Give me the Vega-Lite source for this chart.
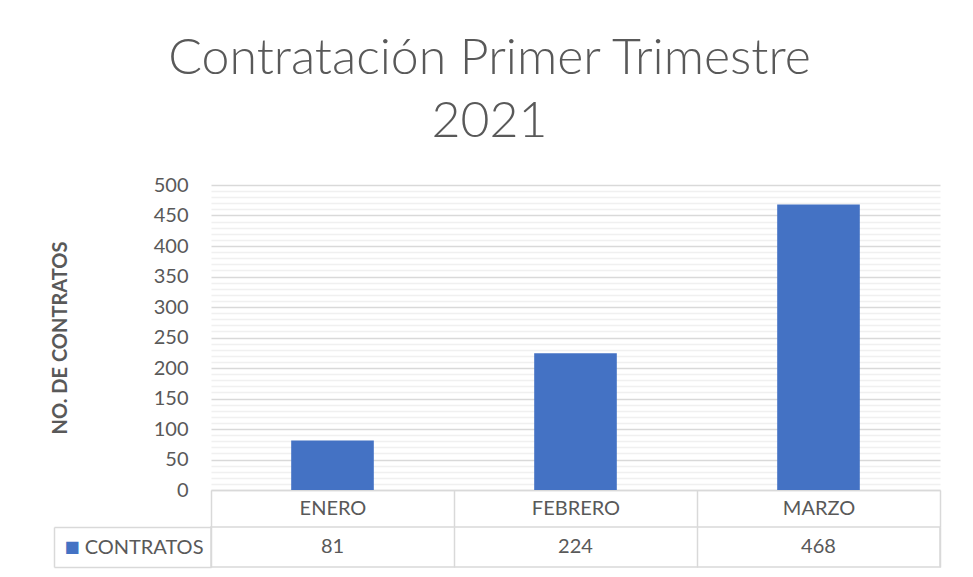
{
  "$schema": "https://vega.github.io/schema/vega-lite/v6.json",
  "background": "white",
  "padding": {"left": 50, "top": 34, "right": 33, "bottom": 10},
  "config": {"font": "Lato", "view": {"stroke": null}},
  "data": {"values": [
    {"mes": "ENERO", "contratos": 81, "serie": "CONTRATOS"},
    {"mes": "FEBRERO", "contratos": 224, "serie": "CONTRATOS"},
    {"mes": "MARZO", "contratos": 468, "serie": "CONTRATOS"}
  ]},
  "title": {
    "text": ["Contratación Primer Trimestre", "2021"],
    "font": "Lato", "fontWeight": 300, "fontSize": 50, "color": "#595959",
    "lineHeight": 63, "anchor": "middle", "dx": -6, "offset": 28
  },
  "bounds": "flush",
  "spacing": 37,
  "vconcat": [
    {
      "width": 729, "height": 305,
      "layer": [
        {
          "mark": {"type": "bar", "color": "#4472C4", "width": {"band": 0.34}},
          "encoding": {
            "x": {"field": "mes", "type": "nominal", "sort": null,
              "scale": {"paddingInner": 0, "paddingOuter": 0},
              "axis": {"title": null, "orient": "bottom", "labelAngle": 0,
                "domainColor": "#d9d9d9", "domainWidth": 1.5,
                "tickBand": "extent", "tickSize": 37, "tickColor": "#d9d9d9", "tickWidth": 1.5,
                "labelPadding": -18.5, "labelBaseline": "middle",
                "labelFontSize": 20, "labelColor": "#595959"}},
            "y": {"field": "contratos", "type": "quantitative",
              "scale": {"domain": [0, 500], "nice": false},
              "axis": {"orient": "left", "title": "NO. DE CONTRATOS",
                "titleFontSize": 20, "titleFontWeight": "bold", "titleColor": "#595959",
                "titlePadding": 83,
                "values": [0, 50, 100, 150, 200, 250, 300, 350, 400, 450, 500],
                "ticks": false, "domain": false, "labelPadding": 23,
                "labelFontSize": 20, "labelColor": "#595959",
                "grid": true, "gridColor": "#d9d9d9", "gridWidth": 1.5}}
          }
        },
        {
          "mark": {"type": "tick", "opacity": 0},
          "encoding": {
            "y": {"field": "contratos", "type": "quantitative",
              "scale": {"domain": [0, 500], "nice": false},
              "axis": {"orient": "right", "title": null, "labels": false, "ticks": false, "domain": false,
                "values": [10, 20, 30, 40, 60, 70, 80, 90, 110, 120, 130, 140, 160, 170, 180, 190, 210, 220, 230, 240, 260, 270, 280, 290, 310, 320, 330, 340, 360, 370, 380, 390, 410, 420, 430, 440, 460, 470, 480, 490],
                "grid": true, "gridColor": "#f0f0f0", "gridWidth": 1.5}}
          }
        }
      ],
      "resolve": {"axis": {"y": "independent"}}
    },
    {
      "width": 729, "height": 40,
      "view": {"stroke": "#d9d9d9", "strokeWidth": 1.5},
      "layer": [
        {
          "mark": {"type": "text", "fontSize": 20, "color": "#595959"},
          "encoding": {
            "x": {"field": "mes", "type": "nominal", "sort": null,
              "scale": {"paddingInner": 0, "paddingOuter": 0},
              "axis": {"title": null, "labels": false, "ticks": false, "domain": false,
                "grid": true, "tickBand": "extent", "gridColor": "#d9d9d9", "gridWidth": 1.5}},
            "y": {"field": "serie", "type": "nominal",
              "scale": {"paddingInner": 0, "paddingOuter": 0},
              "axis": {"title": null, "orient": "left", "domain": false,
                "tickBand": "extent", "tickSize": 157, "tickColor": "#d9d9d9", "tickWidth": 1.5,
                "labelPadding": -149, "labelAlign": "right", "labelBaseline": "middle",
                "labelFontSize": 20, "labelColor": "#595959"}},
            "text": {"field": "contratos", "type": "quantitative"}
          }
        },
        {
          "mark": {"type": "point", "opacity": 0},
          "encoding": {
            "y": {"field": "serie", "type": "nominal",
              "scale": {"paddingInner": 0, "paddingOuter": 0},
              "axis": {"title": null, "orient": "left", "offset": 157,
                "domain": true, "domainColor": "#d9d9d9", "domainWidth": 1.5,
                "ticks": false, "labelExpr": "'■'", "labelColor": "#4472C4",
                "labelFont": "DejaVu Sans", "labelFontSize": 16,
                "labelAlign": "left", "labelPadding": -10, "labelBaseline": "middle"}}
          }
        }
      ],
      "resolve": {"axis": {"y": "independent"}}
    }
  ]
}
